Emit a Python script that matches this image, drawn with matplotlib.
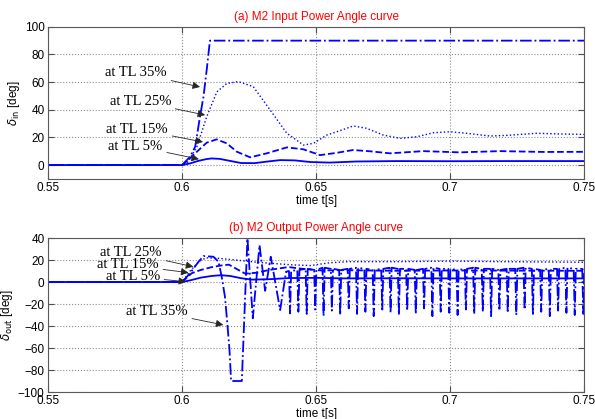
import numpy as np
import matplotlib
matplotlib.use("Agg")
import matplotlib.pyplot as plt

plt.rcParams['font.family'] = ['Liberation Sans', 'DejaVu Sans']

# ----- (a) input power angle -----
t_in_5 = [0.55, 0.60, 0.603, 0.606, 0.609, 0.611, 0.614, 0.618, 0.622, 0.627, 0.632, 0.6366,
          0.642, 0.648, 0.655, 0.665, 0.68, 0.70, 0.72, 0.75]
d_in_5 = [0, 0, 1.2, 3.0, 4.3, 4.8, 4.5, 3.0, 1.5, 1.4, 2.6, 3.6,
          3.4, 2.2, 1.8, 2.6, 2.9, 2.8, 2.9, 2.9]

t_in_15 = [0.55, 0.60, 0.6025, 0.6055, 0.6092, 0.6129, 0.6167, 0.6204, 0.6254, 0.6316, 0.6391,
           0.6453, 0.6515, 0.6575, 0.6638, 0.6700, 0.6776, 0.69, 0.7037, 0.7187, 0.735, 0.75]
d_in_15 = [0, 0, 4.0, 9.6, 16.2, 18.6, 15.7, 9.7, 5.6, 8.5, 12.8,
           11.4, 7.2, 8.8, 10.9, 10.0, 8.5, 10.1, 9.2, 10.1, 9.5, 9.6]

t_in_25 = [0.55, 0.60, 0.6018, 0.6055, 0.6092, 0.6130, 0.6167, 0.6210, 0.6266, 0.6328, 0.6391,
           0.6453, 0.649, 0.654, 0.6577, 0.6639, 0.6689, 0.6751, 0.6813, 0.6876, 0.6938,
           0.70, 0.7062, 0.7149, 0.7212, 0.7323, 0.741, 0.75]
d_in_25 = [0, 0, 1.2, 13, 35, 53, 59, 60.4, 56.7, 40, 23,
           14.5, 15.7, 21.7, 24.1, 28.3, 26.6, 21.7, 19.3, 20.5, 23.4,
           24.1, 23, 21, 21.5, 23, 22.5, 22.2]

t_in_35 = [0.55, 0.60, 0.603, 0.6049, 0.6067, 0.6080, 0.6092, 0.6104, 0.75]
d_in_35 = [0, 0, 6, 13.3, 35, 49.5, 68.8, 90, 90]

# ----- (b) output power angle -----
t_out_5 = [0.55, 0.60, 0.603, 0.607, 0.611, 0.6145, 0.618, 0.622, 0.626, 0.632, 0.64,
           0.65, 0.66, 0.68, 0.70, 0.75]
d_out_5 = [0, 0, 1.5, 4, 5.5, 6.2, 5.5, 3.5, 2.2, 2.5, 3.6,
           3.8, 3.3, 3.4, 3.3, 3.3]

t_out_15 = [0.55, 0.60, 0.6036, 0.607, 0.611, 0.6150, 0.6175, 0.621, 0.6236, 0.628, 0.6325,
            0.6397, 0.645, 0.652, 0.66, 0.68, 0.70, 0.75]
d_out_15 = [0, 0, 8, 11, 13.5, 15.2, 15.8, 11, 7.6, 8.5, 11,
            13.6, 12, 10.5, 10.8, 10.2, 10.5, 10.2]

t_out_25 = [0.55, 0.60, 0.603, 0.6065, 0.609, 0.614, 0.62, 0.628, 0.636, 0.642, 0.648,
            0.655, 0.662, 0.67, 0.68, 0.70, 0.72, 0.75]
d_out_25 = [0, 0, 10, 19, 22, 21.5, 20, 18, 16.5, 15.5, 15.0,
            17.5, 18.5, 18.5, 18.5, 19, 18.5, 18]

# 35%: first swing (pole slip) then the fast oscillation
t_out_35 = [0.55, 0.60, 0.603, 0.606, 0.608, 0.6117, 0.6136, 0.6148, 0.6160, 0.6169, 0.6177,
            0.6183, 0.6223, 0.6244, 0.6264, 0.6289, 0.6310, 0.6331, 0.6366, 0.6388]
d_out_35 = [0, 0, 8, 18, 23.6, 23, 18.5, 4.8, -13.3, -37.6, -61.8,
            -90, -90, 39.7, -33, 33.6, -8, 23, -25.5, 9.4]

spike_t = [0.6403, 0.6434, 0.6465, 0.6497, 0.6528, 0.6559, 0.6590, 0.6622, 0.6653, 0.6684,
           0.6715, 0.6747, 0.6778, 0.6809, 0.6840, 0.6872, 0.6903, 0.6934, 0.6965, 0.6997,
           0.7028, 0.7059, 0.7090, 0.7122, 0.7153, 0.7184, 0.7215, 0.7247, 0.7278, 0.7309,
           0.7340, 0.7372, 0.7403, 0.7434, 0.7465, 0.7497]
spike_lo = [-28.5, -27, -29, -25, -31, -26, -30, -24, -29, -27, -31, -25, -28, -30, -26, -29,
            -24, -31, -27, -28, -30, -25, -29, -27, -31, -26, -28, -30, -25, -29, -27, -31,
            -26, -28, -30, -29]
spike_hi = [10, 11, 12, 11, 13, 12, 11, 12, 13, 12, 11, 12, 13, 12, 12, 11, 12, 13, 12, 12,
            11, 12, 13, 12, 12, 11, 12, 12, 13, 12, 11, 12, 12, 13, 12, 12]

# narrow V for every spike, flat top between them
hw = 0.0004
t35 = list(t_out_35)
d35 = list(d_out_35)
for ts, lo, hi in zip(spike_t, spike_lo, spike_hi):
    t35 += [ts - hw, ts, ts + hw]
    d35 += [hi, lo, hi]

BLUE = '#0000ff'
SERIF = ['Liberation Serif', 'DejaVu Serif']


def style_axes(ax, ylim, yticks, title, ylabel):
    ax.set_xlim(0.55, 0.75)
    ax.set_ylim(*ylim)
    ax.set_xticks([0.55, 0.6, 0.65, 0.7, 0.75])
    ax.set_xticklabels(['0.55', '0.6', '0.65', '0.7', '0.75'])
    ax.set_yticks(yticks)
    ax.grid(True, linestyle=':', color='0.55', linewidth=0.8)
    ax.tick_params(direction='in', top=True, right=True, labelsize=8.5, pad=2.5,
                   length=4, color='0.3')
    for s in ax.spines.values():
        s.set_color('0.35')
        s.set_linewidth(0.8)
    ax.set_title(title, color='red', fontsize=8.5, pad=5)
    ax.set_xlabel('time t[s]', fontsize=8.5, labelpad=0.5)
    ax.set_ylabel(ylabel, fontsize=8.5, labelpad=2)


def label(ax, txt, tip, tail):
    ax.annotate(txt, xy=tip, xytext=tail, ha='right', va='center',
                fontsize=10.5, family=SERIF,
                arrowprops=dict(arrowstyle='-|>', color='0.15', lw=0.6,
                                mutation_scale=11, shrinkA=1, shrinkB=0))


fig = plt.figure(figsize=(5.95, 4.19), dpi=100)
ax1 = fig.add_axes([0.0807, 0.573, 0.901, 0.363])
ax2 = fig.add_axes([0.0807, 0.0644, 0.901, 0.3675])

ax1.plot(t_in_5, d_in_5, '-', color=BLUE, lw=1.3)
ax1.plot(t_in_15, d_in_15, '--', color=BLUE, lw=1.3)
ax1.plot(t_in_25, d_in_25, ':', color=BLUE, lw=1.0)
ax1.plot(t_in_35, d_in_35, '-.', color=BLUE, lw=1.3)
style_axes(ax1, (-10, 100), [0, 20, 40, 60, 80, 100],
           '(a) M2 Input Power Angle curve', r'$\delta_{\rm in}$ [deg]')
label(ax1, 'at TL 35%', (0.6067, 56.5), (0.5944, 66.7))
label(ax1, 'at TL 25%', (0.6086, 36.2), (0.5959, 46.0))
label(ax1, 'at TL 15%', (0.6078, 16.7), (0.5948, 26.0))
label(ax1, 'at TL 5%', (0.6063, 4.3), (0.5928, 13.8))

ax2.plot(t_out_5, d_out_5, '-', color=BLUE, lw=1.3)
ax2.plot(t_out_15, d_out_15, '--', color=BLUE, lw=1.3)
ax2.plot(t_out_25, d_out_25, ':', color=BLUE, lw=1.0)
ax2.plot(t35, d35, '-.', color=BLUE, lw=1.3)
style_axes(ax2, (-100, 40), [-100, -80, -60, -40, -20, 0, 20, 40],
           '(b) M2 Output Power Angle curve', r'$\delta_{\rm out}$ [deg]')
label(ax2, 'at TL 25%', (0.6042, 13.9), (0.5925, 26.4))
label(ax2, 'at TL 15%', (0.6024, 8.5), (0.5914, 15.5))
label(ax2, 'at TL 5%', (0.6015, 0.3), (0.5918, 5.0))
label(ax2, 'at TL 35%', (0.6154, -39.0), (0.6022, -26.8))

fig.savefig('out.png', dpi=100)
